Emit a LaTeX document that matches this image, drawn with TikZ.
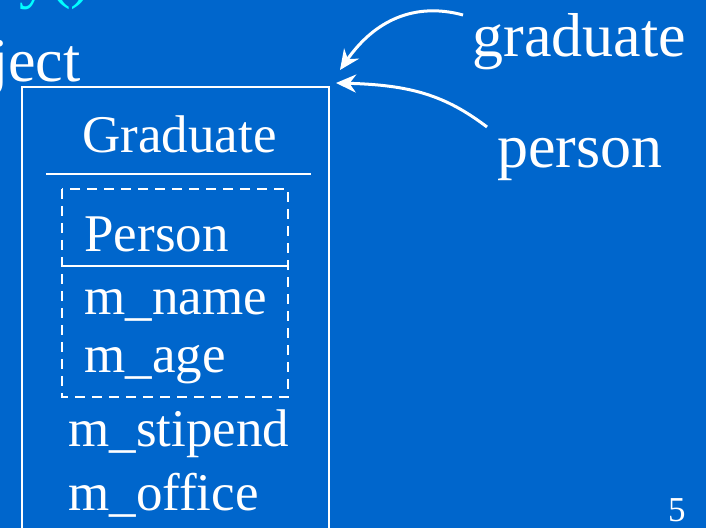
\documentclass[tikz,border=0pt]{standalone}
\usepackage{fontspec}
\setmainfont{Liberation Serif}
\usetikzlibrary{arrows.meta}
\definecolor{slideblue}{RGB}{0,102,204}
\definecolor{fncyan}{RGB}{0,255,255}

\tikzset{
  field/.style={anchor=base west, inner sep=0, text=white, font=\fontsize{26.5}{30}\selectfont},
  callout/.style={anchor=base west, inner sep=0, text=white, font=\fontsize{31}{36}\selectfont},
  boxline/.style={white, line width=1pt},
  pointer/.style={white, line width=1.5pt, -{Stealth[length=10pt,width=9pt]}}
}

\begin{document}
\begin{tikzpicture}[x=0.5pt, y=-0.5pt]
\fill[slideblue] (0,0) rectangle (706,528);
\useasboundingbox (0,0) rectangle (706,528);
\clip (0,0) rectangle (706,528);

% what is left of the lines above
\node[callout, anchor=base east, text=fncyan] (prev fn) at (92,-3) {y()};
\node[callout] (prev text) at (107,-3) {that shows the};
\node[callout, anchor=base east] (prev obj) at (81,82) {ject};

% the object
\coordinate (object corner) at (329,87);
\draw[boxline] (22,87) rectangle (object corner |- 0,560);
\node[field] (class name) at (82,153) {Graduate};
\draw[boxline] (46,174) -- (311,174);
\draw[boxline, dash pattern=on 5pt off 3.5pt] (62,189) rectangle (288,397);
\draw[boxline] (62,266) -- (288,266);
\node[field] (base name) at (84,252) {Person};
\node[field] (name field) at (84,315) {m\_name};
\node[field] (age field) at (84,373) {m\_age};
\node[field] (stipend field) at (68,447) {m\_stipend};
\node[field] (office field) at (68,510) {m\_office};

% the two pointers
\node[callout] (graduate label) at (472,57) {graduate};
\node[callout] (person label) at (497,168) {person};
\draw[pointer] ([shift={(-9,-42)}]graduate label.base west)
  .. controls (415,2) and (375,20) .. ([shift={(11,-17)}]object corner);
\draw[pointer] ([shift={(-10,-41)}]person label.base west)
  .. controls (445,95) and (410,85) .. ([shift={(7,-4)}]object corner);

\node[anchor=base east, inner sep=0, text=white, font=\fontsize{17.5}{20}\selectfont] (page no) at (686,522) {5};
\end{tikzpicture}
\end{document}
